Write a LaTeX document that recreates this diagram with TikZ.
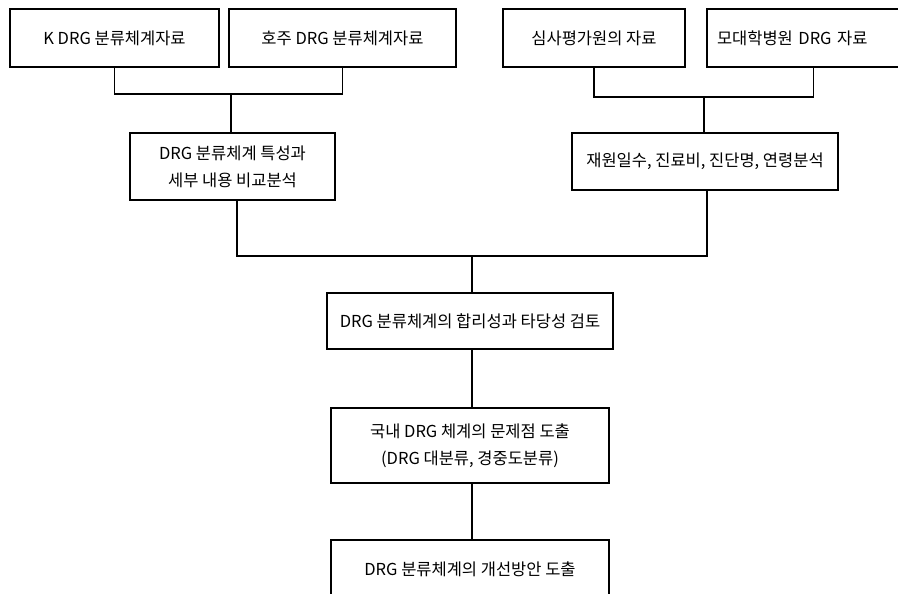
\documentclass[tikz,border=0pt]{standalone}
\usepackage{fontspec}
\setmainfont{Noto Sans CJK KR}
\begin{document}
\begin{tikzpicture}[x=1pt,y=-1pt,
  box/.style={draw=black, line width=1.2pt, fill=white, inner sep=0pt, align=center,
    font=\fontsize{16.5}{27}\selectfont},
  thin/.style={draw=black, line width=1.1pt},
  thick/.style={draw=black, line width=2.2pt}]
\useasboundingbox (0,0) rectangle (898,594);
% top row
\node[box, minimum width=209, minimum height=58] (b1) at (114.5,38) {K DRG 분류체계자료};
\node[box, minimum width=227, minimum height=58] (b2) at (342.5,38) {호주 DRG 분류체계자료};
\node[box, minimum width=182, minimum height=58] (bA) at (594,38) {심사평가원의 자료};
\node[box, minimum width=213, minimum height=58, text width=193, align=left] (bB) at (813.5,38) {모대학병원 DRG 자료};
% second row
\node[box, minimum width=205, minimum height=67] (b3) at (232.5,166.5) {DRG 분류체계 특성과\\세부 내용 비교분석};
\node[box, minimum width=266, minimum height=57] (bC) at (705,161.5) {재원일수, 진료비, 진단명, 연령분석};
% middle column
\node[box, minimum width=286, minimum height=56] (b4) at (470,321) {DRG 분류체계의 합리성과 타당성 검토};
\node[box, minimum width=278, minimum height=75] (b5) at (470,445.5) {국내 DRG 체계의 문제점 도출\\(DRG 대분류, 경중도분류)};
\node[box, minimum width=278, minimum height=90] (b6) at (470,585) {};
\node[font=\fontsize{16.5}{27}\selectfont, anchor=center] (t6) at (470,569) {DRG 분류체계의 개선방안 도출};
% junctions
\coordinate (j1) at (231,94);
\coordinate (j2) at (704,97);
\coordinate (j3) at (472,256);
% connectors
\draw[thin] (b1.south) |- (j1) -| (b2.south);
\draw[thin] (j1) -- (j1 |- b3.north);
\draw[thin] (bA.south) |- (j2) -| (bB.south);
\draw[thin] (j2) -- (j2 |- bC.north);
\draw[thick] ([xshift=4.5]b3.south) |- (j3) -| ([xshift=2]bC.south);
\draw[thin] (j3) -- (j3 |- b4.north);
\draw[thin] (j3 |- b4.south) -- (j3 |- b5.north);
\draw[thin] (j3 |- b5.south) -- (j3 |- b6.north);
\end{tikzpicture}
\end{document}
